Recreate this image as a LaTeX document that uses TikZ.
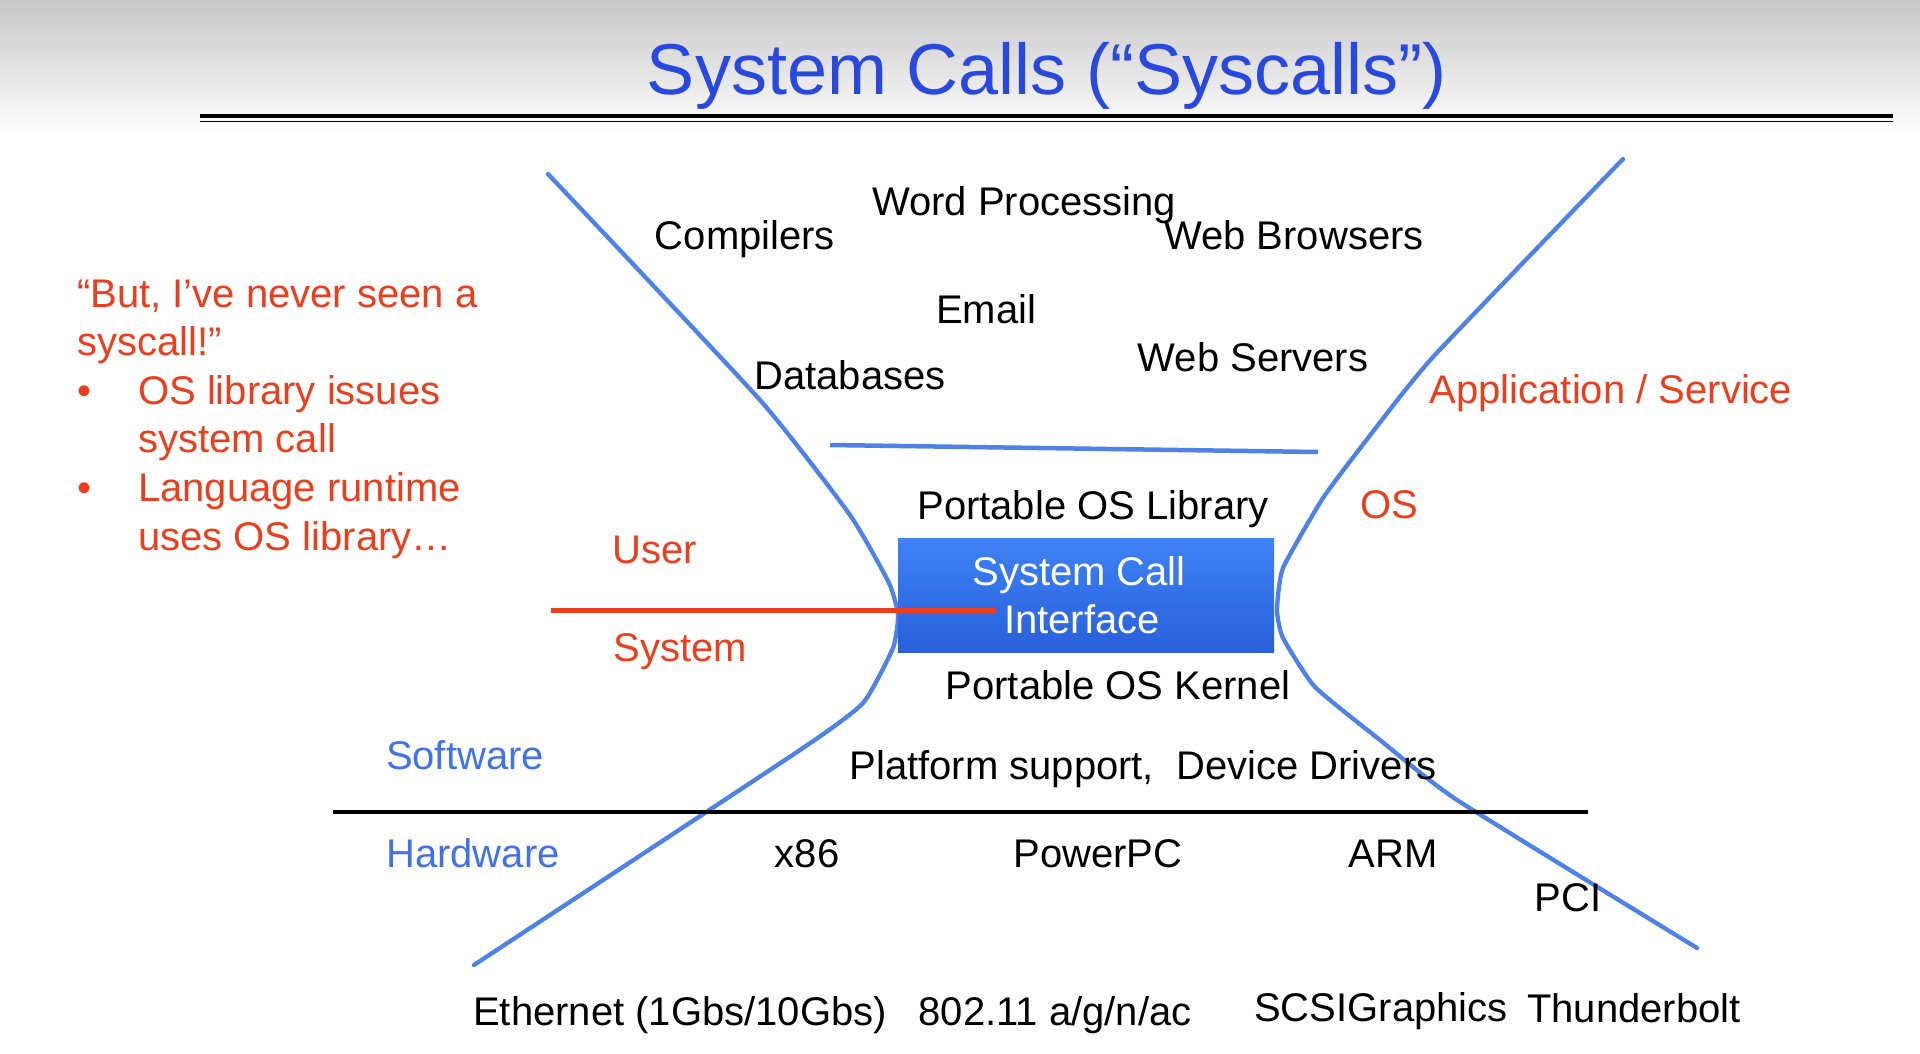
\documentclass[tikz,border=0pt]{standalone}
\usepackage{fontspec}
\setmainfont{Liberation Sans}
\definecolor{titleblue}{RGB}{40,72,222}
\definecolor{hgblue}{RGB}{78,130,230}
\definecolor{slred}{RGB}{236,62,28}
\definecolor{swblue}{RGB}{66,115,230}
\definecolor{boxtop}{RGB}{62,130,245}
\definecolor{boxbot}{RGB}{40,96,218}
\tikzset{
  txt/.style={inner sep=0pt, anchor=base, font=\fontsize{40}{48}\selectfont, text=black},
  redtxt/.style={txt, text=slred},
  bluetxt/.style={txt, text=swblue},
  lefttxt/.style={txt, anchor=base west, text=slred},
  hgline/.style={draw=hgblue, line width=4.3pt, line cap=round, line join=round},
}
\begin{document}
\begin{tikzpicture}[x=1pt,y=-1pt]
\useasboundingbox (0,0) rectangle (1920,1054);
\fill[white] (0,0) rectangle (1920,1054);
\shade[top color=black!22, bottom color=white] (0,0) rectangle (1920,135);

% title
\node[inner sep=0pt, anchor=base, font=\fontsize{72}{86}\selectfont, text=titleblue] (title) at (1047,95) {System Calls (“Syscalls”)};
\coordinate (dl1) at (200,116);
\coordinate (dr1) at (1893,116);
\coordinate (dl2) at (200,121.5);
\coordinate (dr2) at (1893,121.5);
\draw[line width=3.5pt] (dl1) -- (dr1);
\draw[line width=1.5pt] (dl2) -- (dr2);

% left text
\node[lefttxt] (q1) at (77,307) {“But, I’ve never seen a};
\node[lefttxt] (q2) at (77,355) {syscall!”};
\node[lefttxt] (b1) at (77,404) {•};
\node[lefttxt] (q3) at (138,404) {OS library issues};
\node[lefttxt] (q4) at (138,452) {system call};
\node[lefttxt] (b2) at (77,501) {•};
\node[lefttxt] (q5) at (138,501) {Language runtime};
\node[lefttxt] (q6) at (138,550) {uses OS library…};

% hourglass lines
\coordinate (lt) at (548,174);
\coordinate (lb) at (474,965);
\coordinate (rt) at (1623,159);
\coordinate (rb) at (1697,948);
\draw[hgline] plot[smooth, tension=0.3] coordinates {(lt) (760,400) (850,515) (889,583) (898,615) (893,648) (863,703) (800,750) (lb)};
\draw[hgline] plot[smooth, tension=0.3] coordinates {(rt) (1433,357) (1368,438) (1323,498) (1283,568) (1277,610) (1283,638) (1315,687) (1380,740) (1457,800) (rb)};
\coordinate (al) at (830,445);
\coordinate (ar) at (1318,452);
\draw[hgline, line width=4.5pt, line cap=butt] (al) -- (ar);

% box
\node[inner sep=0pt, minimum width=376pt, minimum height=114pt, top color=boxtop, bottom color=boxbot,
      text=white, align=center, font=\fontsize{40}{48}\selectfont] (sci) at (1086,595) {System Call\hspace*{14pt}\\Interface\hspace*{8pt}};

% user/system line
\coordinate (ul) at (551,610);
\coordinate (ur) at (996,610);
\draw[draw=slred, line width=5pt] (ul) -- (ur);

% hardware/software line
\coordinate (hl) at (333,812);
\coordinate (hr) at (1588,812);
\draw[line width=4pt] (hl) -- (hr);

% application texts
\node[txt] (wp) at (1024,215) {Word Processing};
\node[txt] (comp) at (745,249) {Compilers};
\node[txt] (wb) at (1294,249) {Web Browsers};
\node[txt] (em) at (986,323) {Email};
\node[txt] (ws) at (1253,371) {Web Servers};
\node[txt] (db) at (850,389) {Databases};
\node[redtxt] (app) at (1611,403) {Application / Service};
\node[txt] (pol) at (1093,519) {Portable OS Library};
\node[redtxt] (os) at (1389,518) {OS};
\node[redtxt] (usr) at (655,563) {User};
\node[redtxt] (sys) at (680,661) {System};
\node[txt] (pok) at (1118,699) {Portable OS Kernel};
\node[bluetxt] (sw) at (465,769) {Software};
\node[txt] (ps) at (1143,779) {Platform support,\ \ Device Drivers};
\node[bluetxt] (hw) at (473,867) {Hardware};
\node[txt] (x86) at (807,867) {x86};
\node[txt] (ppc) at (1098,867) {PowerPC};
\node[txt] (arm) at (1393,867) {ARM};
\node[txt] (pci) at (1568,911) {PCI};
\node[txt] (eth) at (680,1025) {Ethernet (1Gbs/10Gbs)};
\node[txt] (wifi) at (1055,1025) {802.11 a/g/n/ac};
\node[txt] (scsi) at (1381,1021) {SCSIGraphics};
\node[txt] (tb) at (1634,1022) {Thunderbolt};
\end{tikzpicture}
\end{document}
